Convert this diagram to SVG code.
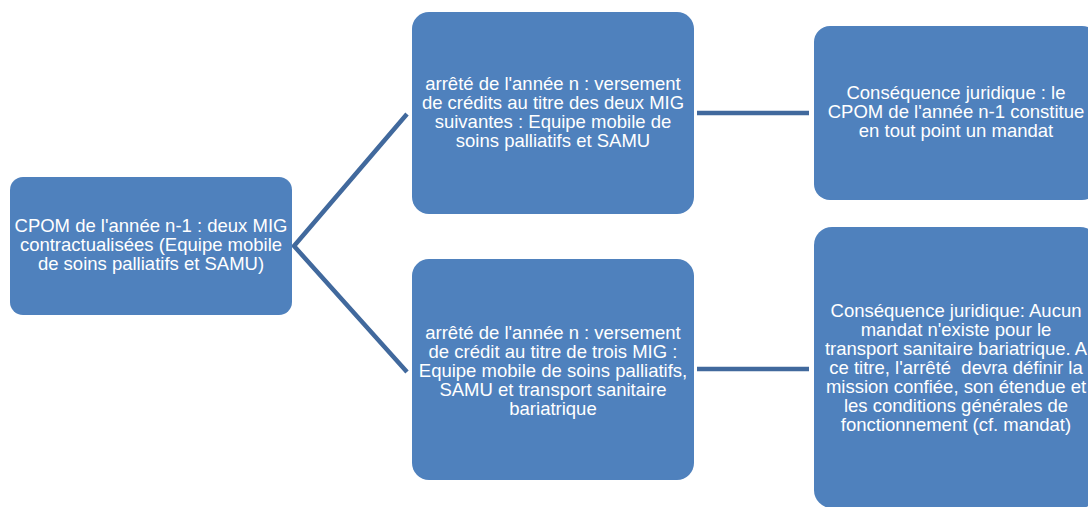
<svg xmlns="http://www.w3.org/2000/svg" width="1088" height="507" viewBox="0 0 1088 507">
<style>
.box{fill:#4F81BD;}
.t{font-family:"Liberation Sans",Arial,sans-serif;font-size:18.5px;fill:#FFFFFF;text-anchor:middle;}
.c{stroke:#41699D;stroke-width:4.5;fill:none;}
</style>
<rect width="1088" height="507" fill="#FFFFFF"/>
<g id="connectors">
<path class="c" d="M407,114 L294,246 L407,372"/>
<line class="c" x1="697" y1="113" x2="809" y2="113"/>
<line class="c" x1="697" y1="369" x2="809" y2="369"/>
</g>
<g id="n1">
<rect class="box" x="10" y="177" width="282" height="138" rx="13"/>
<text class="t"><tspan x="151" y="232">CPOM de l'année n-1 : deux MIG</tspan><tspan x="151" y="251">contractualisées (Equipe mobile</tspan><tspan x="151" y="270">de soins palliatifs et SAMU)</tspan></text>
</g>
<g id="n2">
<rect class="box" x="412" y="12" width="282" height="202" rx="17"/>
<text class="t"><tspan x="553" y="90">arrêté de l'année n : versement</tspan><tspan x="553" y="109">de crédits au titre des deux MIG</tspan><tspan x="553" y="128">suivantes : Equipe mobile de</tspan><tspan x="553" y="147">soins palliatifs et SAMU</tspan></text>
</g>
<g id="n3">
<rect class="box" x="814" y="26" width="284" height="174" rx="16"/>
<text class="t"><tspan x="956" y="99">Conséquence juridique : le</tspan><tspan x="956" y="118">CPOM de l'année n-1 constitue</tspan><tspan x="956" y="137">en tout point un mandat</tspan></text>
</g>
<g id="n4">
<rect class="box" x="412" y="259" width="282" height="221" rx="17"/>
<text class="t"><tspan x="553" y="339">arrêté de l'année n : versement</tspan><tspan x="553" y="358">de crédit au titre de trois MIG :</tspan><tspan x="553" y="377">Equipe mobile de soins palliatifs,</tspan><tspan x="553" y="396">SAMU et transport sanitaire</tspan><tspan x="553" y="415">bariatrique</tspan></text>
</g>
<g id="n5">
<rect class="box" x="814" y="227" width="284" height="281" rx="18"/>
<text class="t"><tspan x="956" y="317">Conséquence juridique: Aucun</tspan><tspan x="956" y="336">mandat n'existe pour le</tspan><tspan x="956" y="355">transport sanitaire bariatrique. A</tspan><tspan x="956" y="374">ce titre, l'arrêté&#160; devra définir la</tspan><tspan x="956" y="393">mission confiée, son étendue et</tspan><tspan x="956" y="412">les conditions générales de</tspan><tspan x="956" y="431">fonctionnement (cf. mandat)</tspan></text>
</g>
</svg>
